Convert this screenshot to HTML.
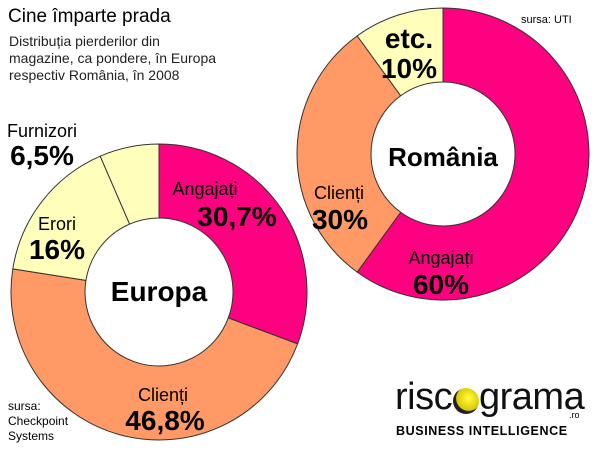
<!DOCTYPE html>
<html><head><meta charset="utf-8"><style>
html,body{margin:0;padding:0;background:#fff}
body{width:600px;height:450px;overflow:hidden;position:relative;font-family:"Liberation Sans",sans-serif}
.t{position:absolute;color:#000;white-space:nowrap}
</style></head><body>
<div class="t" style="left:8px;top:6px;font-size:19px">Cine împarte prada</div>
<div class="t" style="left:9px;top:33px;font-size:14px;line-height:17px;color:#222">Distribuția pierderilor din<br>magazine, ca pondere, în Europa<br>respectiv România, în 2008</div>
<svg id="ch" width="600" height="450" style="position:absolute;left:0;top:0"></svg>
<div class="t" style="left:521px;top:14px;font-size:11px">sursa: UTI</div>
<div class="t" style="left:8px;top:399px;font-size:12px;line-height:15px">sursa:<br>Checkpoint<br>Systems</div>
<div style="position:absolute;left:395px;top:380px;width:200px;height:60px">
<div class="t" style="left:0;top:-4px;font-size:38px;letter-spacing:-0.5px;color:#111">risc</div>
<div style="position:absolute;left:58px;top:8px;width:26px;height:26px;border-radius:50%;background:radial-gradient(circle at 60% 40%,#ffff40,#d8c800 55%,#222 58%)"></div>
<div class="t" style="left:84px;top:-4px;font-size:38px;letter-spacing:-0.5px;color:#111">grama</div>
<div class="t" style="left:174px;top:30px;font-size:9px">.ro</div>
<div class="t" style="left:1px;top:44px;font-size:12.5px;font-weight:bold;letter-spacing:0.6px">BUSINESS INTELLIGENCE</div>
</div>
<script>
const euCategories=["Angajați","Clienți","Erori","Furnizori"];
const euValues=[30.7,46.8,16,6.5];
const euLabels=["30,7%","46,8%","16%","6,5%"];
const roCategories=["Angajați","Clienți","etc."];
const roValues=[60,30,10];
const roLabels=["60%","30%","10%"];
const euColors=["#ff0080","#ff9966","#ffffbb","#ffffbb"];
const roColors=["#ff0080","#ff9966","#ffffbb"];
const svg=document.getElementById('ch');
const NS="http://www.w3.org/2000/svg";
function pt(cx,cy,r,f){const a=f*2*Math.PI;return [cx+r*Math.sin(a),cy-r*Math.cos(a)];}
function donut(name,cx,cy,R,r,vals,cols){
  const tot=vals.reduce((a,b)=>a+b,0);let acc=0;
  vals.forEach((v,i)=>{
    const f0=acc/tot,f1=(acc+v)/tot;acc+=v;
    const large=(f1-f0)>0.5?1:0;
    const [x0,y0]=pt(cx,cy,R,f0),[x1,y1]=pt(cx,cy,R,f1),[x2,y2]=pt(cx,cy,r,f1),[x3,y3]=pt(cx,cy,r,f0);
    const p=document.createElementNS(NS,'path');
    p.setAttribute('d',`M${x0},${y0}A${R},${R} 0 ${large} 1 ${x1},${y1}L${x2},${y2}A${r},${r} 0 ${large} 0 ${x3},${y3}Z`);
    p.setAttribute('fill',cols[i]);p.setAttribute('stroke','#333');p.setAttribute('stroke-width','1');
    
    
    svg.appendChild(p);
  });
}
donut('europa',159,292,148,74,euValues,euColors);
donut('romania',443,154,146,72,roValues,roColors);
function txt(x,y,s,size,bold,name){
  const t=document.createElementNS(NS,'text');
  t.setAttribute('x',x);t.setAttribute('y',y);t.setAttribute('font-size',size);
  t.setAttribute('text-anchor','middle');if(bold)t.setAttribute('font-weight','bold');
  t.setAttribute('font-family','Liberation Sans, sans-serif');t.textContent=s;
  
  
  svg.appendChild(t);
}
txt(159,301,'Europa',28,true,'europa-center-label');
txt(443,166,'România',26,true,'romania-center-label');
txt(205,195,euCategories[0],18,false,'eu-angajati-name');txt(237,226,euLabels[0],28,true,'eu-angajati-value');
txt(163,401,euCategories[1],18,false,'eu-clienti-name');txt(165,430,euLabels[1],28,true,'eu-clienti-value');
txt(57,230,euCategories[2],18,false,'eu-erori-name');txt(57,259,euLabels[2],28,true,'eu-erori-value');
txt(42,137,euCategories[3],18,false,'eu-furnizori-name');txt(42,165,euLabels[3],28,true,'eu-furnizori-value');
txt(441,264,roCategories[0],18,false,'ro-angajati-name');txt(441,294,roLabels[0],28,true,'ro-angajati-value');
txt(339,199,roCategories[1],18,false,'ro-clienti-name');txt(340,229,roLabels[1],28,true,'ro-clienti-value');
txt(409,48,roCategories[2],28,true,'ro-etc-name');txt(409,78,roLabels[2],28,true,'ro-etc-value');
</script>
</body></html>
